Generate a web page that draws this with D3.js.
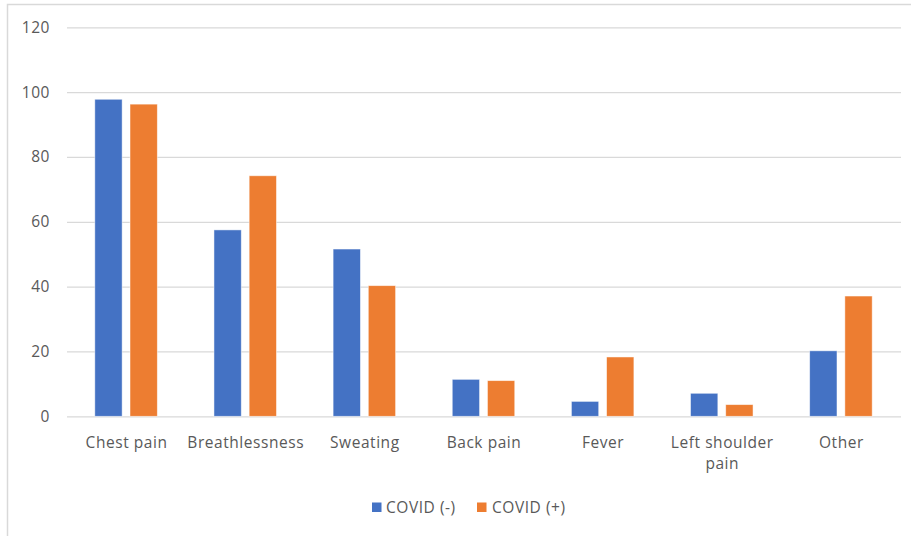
<!DOCTYPE html>
<html>
<head>
<meta charset="utf-8">
<script src="https://cdn.jsdelivr.net/npm/d3@7"></script>
<style>
  html, body { margin: 0; padding: 0; background: #fff; }
  svg { display: block; }
  text { font-family: "Open Sans", "DejaVu Sans", sans-serif; fill: #595959; }
</style>
</head>
<body>
<svg id="chart" width="911" height="536"></svg>
<script>
// Symptom categories (multi-line labels split on "\n")
const categories = ["Chest pain", "Breathlessness", "Sweating", "Back pain", "Fever", "Left shoulder\npain", "Other"];
const seriesNames = ["COVID (-)", "COVID (+)"];
const covidNegative = [97.8, 57.5, 51.6, 11.4, 4.6, 7.1, 20.2];
const covidPositive = [96.3, 74.2, 40.3, 11.0, 18.3, 3.6, 37.1];
const yTicks = [0, 20, 40, 60, 80, 100, 120];
const colors = ["#4472c4", "#ed7d31"];

const FS = 15.5, LS = 0.55;

const svg = d3.select("#chart");
const W = 911, H = 536;

// Outer chart frame
svg.append("rect")
  .attr("x", 7.5).attr("y", 4.5)
  .attr("width", W + 10).attr("height", H + 10)
  .attr("fill", "none").attr("stroke", "#d9d9d9").attr("stroke-width", 1.5);

const plot = { left: 67, right: 901, top: 27.3, bottom: 416.3 };

const x = d3.scaleBand()
  .domain(categories)
  .range([plot.left, plot.right])
  .paddingInner(0).paddingOuter(0);

const y = d3.scaleLinear()
  .domain([0, 120])
  .range([plot.bottom, plot.top]);

// Horizontal gridlines and value labels
const yAxis = d3.axisLeft(y).tickValues(yTicks).tickSize(-(plot.right - plot.left)).tickPadding(17);
const gy = svg.append("g")
  .attr("transform", `translate(${plot.left},0)`)
  .call(yAxis);
gy.select(".domain").remove();
gy.selectAll(".tick line").attr("stroke", "#d9d9d9").attr("stroke-width", 1.3);
gy.selectAll(".tick text")
  .attr("font-size", FS).attr("letter-spacing", LS)
  .style("font-family", "\"Open Sans\", sans-serif").attr("fill", "#595959");

// Bars: two series side by side within each category
const groupWidth = 62.5;
const inner = d3.scaleBand()
  .domain(seriesNames)
  .range([0, groupWidth])
  .paddingInner(0.224);
const groupOffset = (x.bandwidth() - groupWidth) / 2 - 0.5;

const rows = categories.map((c, i) => ({ cat: c, vals: [covidNegative[i], covidPositive[i]] }));

const groups = svg.append("g").selectAll("g")
  .data(rows).join("g")
  .attr("transform", d => `translate(${x(d.cat) + groupOffset},0)`);

groups.selectAll("rect")
  .data(d => d.vals.map((v, k) => ({ name: seriesNames[k], v, k })))
  .join("rect")
  .attr("x", d => inner(d.name))
  .attr("width", inner.bandwidth())
  .attr("y", d => y(d.v))
  .attr("height", d => y(0) - y(d.v))
  .attr("fill", d => colors[d.k])
  .attr("stroke", "#ffffff").attr("stroke-opacity", 0.6).attr("stroke-width", 0.8);

// Category labels
const xLabels = svg.append("g");
categories.forEach(c => {
  const lines = c.split("\n");
  const cx = x(c) + x.bandwidth() / 2;
  const t = xLabels.append("text")
    .attr("x", cx)
    .attr("y", 448)
    .attr("text-anchor", "middle")
    .attr("font-size", FS)
    .attr("letter-spacing", LS);
  lines.forEach((ln, j) => {
    t.append("tspan")
      .attr("x", cx)
      .attr("dy", j === 0 ? 0 : 21)
      .text(ln);
  });
});

// Legend
const legendItems = [
  { name: seriesNames[0], color: colors[0], sx: 372, tx: 386 },
  { name: seriesNames[1], color: colors[1], sx: 477, tx: 492 }
];
const legend = svg.append("g");
legendItems.forEach(it => {
  legend.append("rect")
    .attr("x", it.sx).attr("y", 502.5)
    .attr("width", 9.5).attr("height", 9.5)
    .attr("fill", it.color);
  legend.append("text")
    .attr("x", it.tx).attr("y", 512.5)
    .attr("font-size", FS).attr("letter-spacing", LS)
    .text(it.name);
});
</script>
</body>
</html>
